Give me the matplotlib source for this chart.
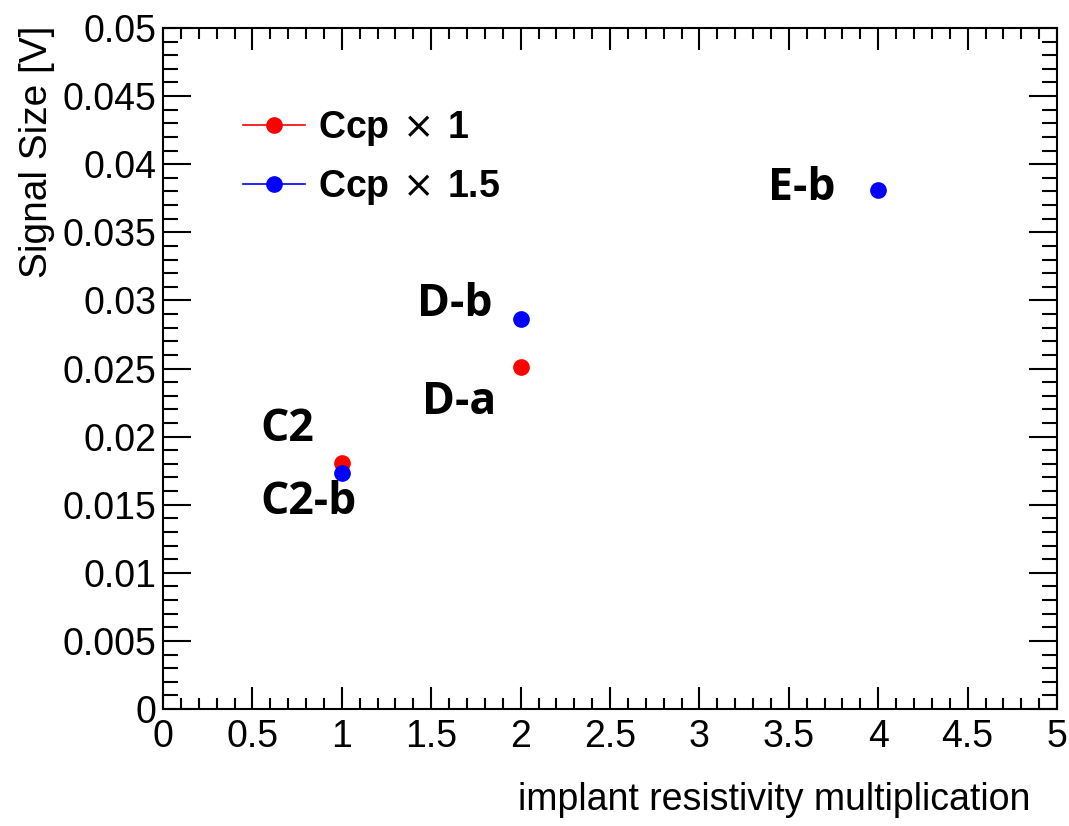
import matplotlib.pyplot as plt
from matplotlib.ticker import MultipleLocator
from matplotlib.lines import Line2D

# data
x_ccp1 = [1, 2]
y_ccp1 = [0.0181, 0.0251]
x_ccp15 = [1, 2, 4]
y_ccp15 = [0.0173, 0.0286, 0.0381]

point_labels = ["C2", "C2-b", "D-b", "D-a", "E-b"]
label_x = [0.694, 0.811, 1.633, 1.655, 3.574]
label_y = [0.0205, 0.0152, 0.0297, 0.0225, 0.0382]

xtick_vals = [0, 0.5, 1, 1.5, 2, 2.5, 3, 3.5, 4, 4.5, 5]
xtick_text = ['0', '0.5', '1', '1.5', '2', '2.5', '3', '3.5', '4', '4.5', '5']
ytick_vals = [0, 0.005, 0.01, 0.015, 0.02, 0.025, 0.03, 0.035, 0.04, 0.045, 0.05]
ytick_text = ['0', '0.005', '0.01', '0.015', '0.02', '0.025', '0.03',
              '0.035', '0.04', '0.045', '0.05']

plt.rcParams['font.family'] = ['Liberation Sans', 'DejaVu Sans']

fig = plt.figure(figsize=(10.69, 8.26), dpi=100)
ax = fig.add_axes([0.1525, 0.1416, 0.8363, 0.8245])

ax.plot(x_ccp1, y_ccp1, 'o', color='#ff0000', ms=11)
ax.plot(x_ccp15, y_ccp15, 'o', color='#0000ff', ms=11)

for t, lx, ly in zip(point_labels, label_x, label_y):
    ax.text(lx, ly, t, fontsize=32, fontweight='bold', family=['Open Sans', 'DejaVu Sans'],
            ha='center', va='center')

ax.set_xlim(0, 5)
ax.set_ylim(0, 0.05)
ax.xaxis.set_minor_locator(MultipleLocator(0.1))
ax.yaxis.set_minor_locator(MultipleLocator(0.001))
ax.set_xticks(xtick_vals)
ax.set_xticklabels(xtick_text)
ax.set_yticks(ytick_vals)
ax.set_yticklabels(ytick_text)

ax.tick_params(which='both', direction='in', top=True, right=True, labelsize=27, width=1.5)
ax.tick_params(axis='x', which='major', length=16, pad=7)
ax.tick_params(axis='x', which='minor', length=8)
ax.tick_params(axis='y', which='major', length=20, pad=5)
ax.tick_params(axis='y', which='minor', length=11)
for s in ax.spines.values():
    s.set_linewidth(1.5)

ax.set_xlabel('implant resistivity multiplication', fontsize=27, ha='right', va='center')
ax.xaxis.set_label_coords(0.97, -0.134)
ax.set_ylabel('Signal Size [V]', fontsize=28, ha='right', va='center')
ax.yaxis.set_label_coords(-0.141, 1.004)

handles = [Line2D([0], [0], color='#ff0000', marker='o', ms=11, lw=1.2),
           Line2D([0], [0], color='#0000ff', marker='o', ms=11, lw=1.2)]
ax.legend(handles, [r'Ccp$\,\times\,$1', r'Ccp$\,\times\,$1.5'], loc='upper left',
          bbox_to_anchor=(0.0895, 0.881), frameon=False, borderpad=0, borderaxespad=0,
          handlelength=1.65, prop={'size': 27, 'weight': 'bold'},
          labelspacing=0.53, handletextpad=0.35)

fig.savefig('out.png', dpi=100)
